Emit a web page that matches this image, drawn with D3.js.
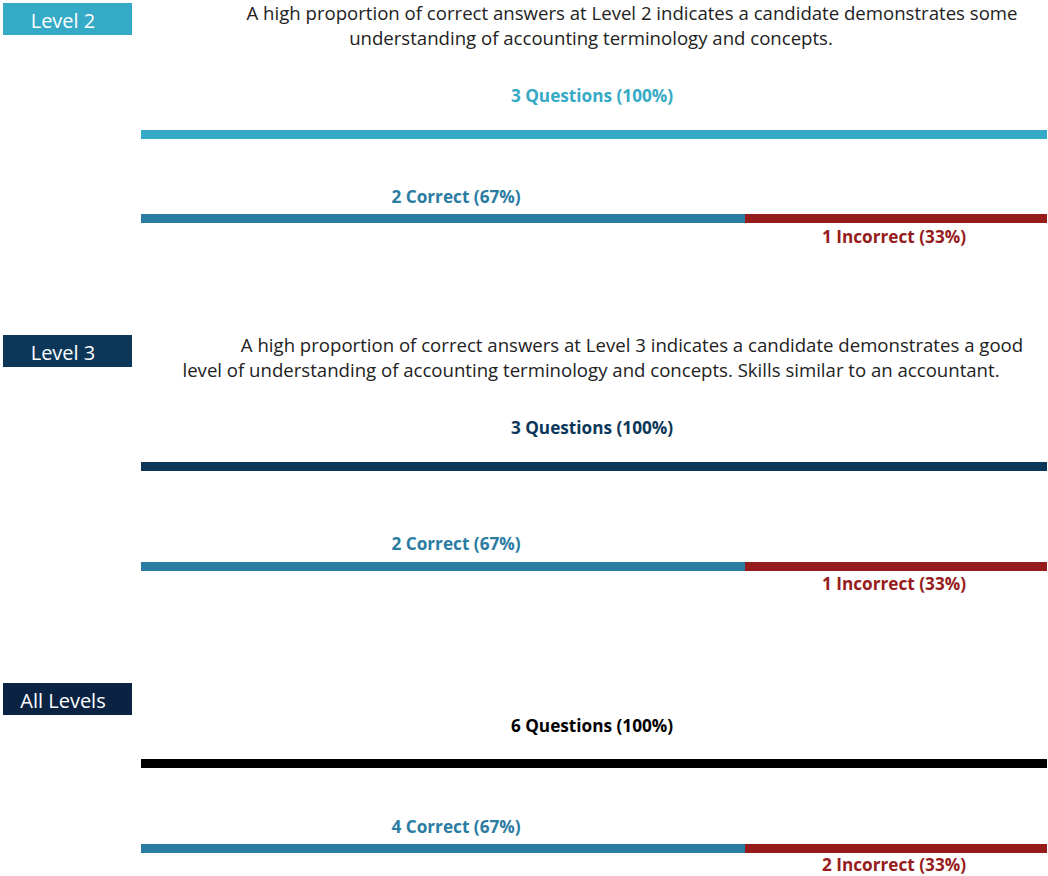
<!DOCTYPE html>
<html>
<head>
<meta charset="utf-8">
<script src="https://cdn.jsdelivr.net/npm/d3@7"></script>
<style>
  body { margin: 0; background: #fff; }
  svg { display: block; font-family: "Open Sans", sans-serif; }
</style>
</head>
<body>
<svg id="chart" width="1048" height="876"></svg>
<script>
// data
var levels = ["Level 2", "Level 3", "All Levels"];
var questions = [3, 3, 6];
var correct = [2, 2, 4];
var incorrect = [1, 1, 2];
var descriptions = [
  ["A high proportion of correct answers at Level 2 indicates a candidate demonstrates some",
   "understanding of accounting terminology and concepts."],
  ["A high proportion of correct answers at Level 3 indicates a candidate demonstrates a good",
   "level of understanding of accounting terminology and concepts. Skills similar to an accountant."],
  []
];

var boxColors = ["#35aac6", "#0c3759", "#0a2342"];
var totalColors = ["#35aac6", "#0c3759", "#000000"];
var correctColor = "#2b7ca3";
var incorrectColor = "#961b1b";

// vertical layout of each section (top of label box, then offsets)
var sections = [
  { top: 3,   desc: [20, 45], total: 102, totalBar: 130, corr: 203, corrBar: 214, inc: 243 },
  { top: 335, desc: [352, 377], total: 434, totalBar: 462, corr: 550, corrBar: 562, inc: 590 },
  { top: 683, desc: [], total: 732, totalBar: 759, corr: 833, corrBar: 844, inc: 871 }
];

var svg = d3.select("#chart");
var barH = 9;
var labelSize = "17.2px";

levels.forEach(function(level, i){
  var s = sections[i];
  var x = d3.scaleLinear().domain([0, questions[i]]).range([141, 1047]);
  var g = svg.append("g").attr("class", "section");

  // label box
  g.append("rect")
    .attr("x", 3).attr("y", s.top)
    .attr("width", 129).attr("height", 32)
    .attr("fill", boxColors[i]);
  g.append("text")
    .attr("x", 63).attr("y", s.top + 25)
    .attr("text-anchor", "middle")
    .attr("font-size", "20px")
    .attr("fill", "#fff")
    .text(level);

  // description, first line indented
  descriptions[i].forEach(function(line, j){
    g.append("text")
      .attr("x", j == 0 ? 632 : 591)
      .attr("y", s.desc[j])
      .attr("text-anchor", "middle")
      .attr("font-size", "18.6px")
      .attr("fill", "#222")
      .text(line);
  });

  // total
  g.append("text")
    .attr("x", (x(0) + x(questions[i])) / 2 - 2)
    .attr("y", s.total)
    .attr("text-anchor", "middle")
    .attr("font-size", labelSize)
    .attr("font-weight", 700)
    .attr("fill", totalColors[i])
    .text(questions[i] + " Questions (100%)");
  g.append("rect")
    .attr("x", x(0)).attr("y", s.totalBar)
    .attr("width", x(questions[i]) - x(0)).attr("height", barH)
    .attr("fill", totalColors[i]);

  var pc = Math.round(correct[i] / questions[i] * 100);
  var pi = Math.round(incorrect[i] / questions[i] * 100);

  // correct / incorrect
  g.append("rect")
    .attr("x", x(0)).attr("y", s.corrBar)
    .attr("width", x(correct[i]) - x(0)).attr("height", barH)
    .attr("fill", correctColor);
  g.append("rect")
    .attr("x", x(correct[i])).attr("y", s.corrBar)
    .attr("width", x(correct[i] + incorrect[i]) - x(correct[i])).attr("height", barH)
    .attr("fill", incorrectColor);

  g.append("text")
    .attr("x", (x(0) + x(correct[i])) / 2 + 13)
    .attr("y", s.corr)
    .attr("text-anchor", "middle")
    .attr("font-size", labelSize)
    .attr("font-weight", 700)
    .attr("fill", correctColor)
    .text(correct[i] + " Correct (" + pc + "%)");
  g.append("text")
    .attr("x", (x(correct[i]) + x(correct[i] + incorrect[i])) / 2 - 2)
    .attr("y", s.inc)
    .attr("text-anchor", "middle")
    .attr("font-size", labelSize)
    .attr("font-weight", 700)
    .attr("fill", incorrectColor)
    .text(incorrect[i] + " Incorrect (" + pi + "%)");
});
</script>
</body>
</html>
